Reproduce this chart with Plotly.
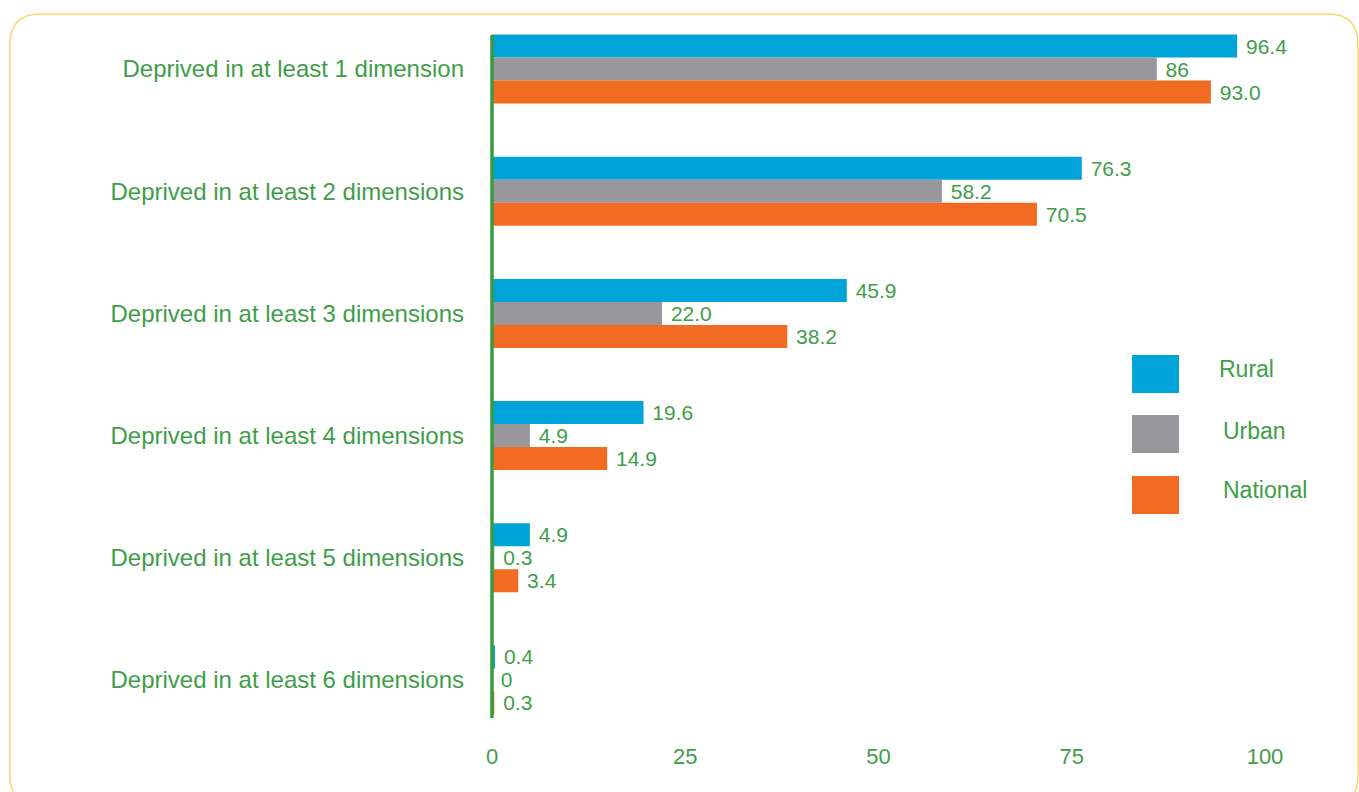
import plotly.graph_objects as go

# Deprivation headcounts (%) by number of dimensions
categories = [
    "Deprived in at least 1 dimension",
    "Deprived in at least 2 dimensions",
    "Deprived in at least 3 dimensions",
    "Deprived in at least 4 dimensions",
    "Deprived in at least 5 dimensions",
    "Deprived in at least 6 dimensions",
]
rural = [96.4, 76.3, 45.9, 19.6, 4.9, 0.4]
urban = [86, 58.2, 22.0, 4.9, 0.3, 0]
national = [93.0, 70.5, 38.2, 14.9, 3.4, 0.3]

rural_text = ["96.4", "76.3", "45.9", "19.6", "4.9", "0.4"]
urban_text = ["86", "58.2", "22.0", "4.9", "0.3", "0"]
national_text = ["93.0", "70.5", "38.2", "14.9", "3.4", "0.3"]

series = [
    ("Rural", rural, rural_text, "#00A4D8"),
    ("Urban", urban, urban_text, "#98989C"),
    ("National", national, national_text, "#F26B22"),
]

x_ticks = [0, 25, 50, 75, 100]

GREEN = "#3E9E47"
FONT = "Liberation Sans, Arial, sans-serif"

W, H = 1359, 792
L, R, T, B = 492, 94, 8, 51
PW, PH = W - L - R, H - T - B


def px(x):
    return (x - L) / PW


def py(y):
    return 1 - (y - T) / PH


fig = go.Figure()
for name, vals, txt, col in series:
    fig.add_trace(go.Bar(
        name=name, y=categories, x=vals, orientation="h",
        marker=dict(color=col, line=dict(width=0)),
        text=txt, texttemplate="\u00a0%{text}",
        textposition="outside", constraintext="none",
        cliponaxis=False,
        textfont=dict(family=FONT, size=21, color=GREEN),
        hoverinfo="skip",
    ))

shapes = []
# rounded frame
x0, y0, x1, y1, r = 10, 14, 1358, 806, 30
path = (
    f"M {px(x0 + r)},{py(y0)} L {px(x1 - r)},{py(y0)} "
    f"Q {px(x1)},{py(y0)} {px(x1)},{py(y0 + r)} "
    f"L {px(x1)},{py(y1 - r)} Q {px(x1)},{py(y1)} {px(x1 - r)},{py(y1)} "
    f"L {px(x0 + r)},{py(y1)} Q {px(x0)},{py(y1)} {px(x0)},{py(y1 - r)} "
    f"L {px(x0)},{py(y0 + r)} Q {px(x0)},{py(y0)} {px(x0 + r)},{py(y0)} Z"
)
shapes.append(dict(type="path", xref="paper", yref="paper", path=path,
                   line=dict(color="#FFD46E", width=1.5), layer="below"))
# vertical axis line along the left edge of the plot area
shapes.append(dict(type="line", xref="paper", yref="paper", x0=0, x1=0,
                   y0=py(35), y1=py(718),
                   line=dict(color="#3A9A40", width=3.5)))

# legend swatches and labels
annotations = []
legend_rows = [(355, 393, 1217, 369), (415, 453, 1221, 431), (476, 514, 1221, 490)]
for (name, _, _, col), (ya, yb, tx, ty) in zip(series, legend_rows):
    shapes.append(dict(type="rect", xref="paper", yref="paper",
                       x0=px(1132), x1=px(1179), y0=py(yb), y1=py(ya),
                       fillcolor=col, line=dict(width=0)))
    annotations.append(dict(xref="paper", yref="paper", x=px(tx), y=py(ty),
                            text=name, showarrow=False, xanchor="left",
                            yanchor="middle",
                            font=dict(family=FONT, size=23, color=GREEN)))

fig.update_layout(
    width=W, height=H,
    margin=dict(l=L, r=R, t=T, b=B),
    paper_bgcolor="white", plot_bgcolor="white",
    barmode="group", bargap=0.435, bargroupgap=0,
    showlegend=False,
    shapes=shapes, annotations=annotations,
    xaxis=dict(range=[0, 100], tickvals=x_ticks, showgrid=False,
               zeroline=False, showline=False, ticks="",
               tickfont=dict(family=FONT, size=22, color=GREEN)),
    yaxis=dict(autorange="reversed", showgrid=False, zeroline=False,
               showline=False, ticks="", ticklabelstandoff=27,
               tickfont=dict(family=FONT, size=24, color=GREEN)),
)

fig.write_html("out.html")
